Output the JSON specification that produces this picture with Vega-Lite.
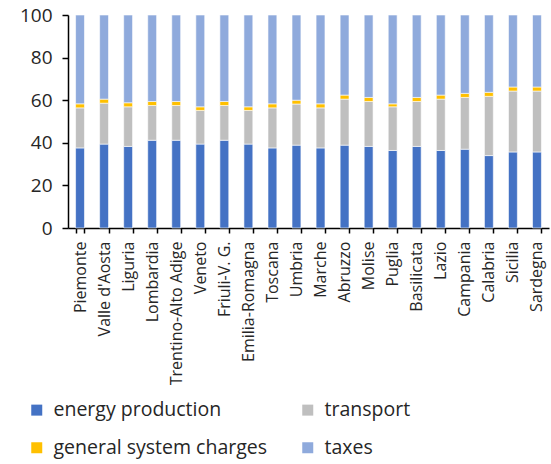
{
  "$schema": "https://vega.github.io/schema/vega-lite/v6.json",
  "autosize": {"type": "none"},
  "padding": {"left": 68, "top": 15, "right": 2, "bottom": 236},
  "width": 481,
  "height": 213,
  "config": {"view": {"stroke": null}, "font": "Open Sans"},
  "datasets": {
    "wide": [
      {"region": "Piemonte", "a": 37.6, "b": 18.8, "c": 1.9, "d": 41.7},
      {"region": "Valle d'Aosta", "a": 39.4, "b": 19.2, "c": 1.9, "d": 39.5},
      {"region": "Liguria", "a": 38.3, "b": 18.6, "c": 1.9, "d": 41.2},
      {"region": "Lombardia", "a": 41.2, "b": 16.3, "c": 1.9, "d": 40.6},
      {"region": "Trentino-Alto Adige", "a": 41.2, "b": 16.3, "c": 1.9, "d": 40.6},
      {"region": "Veneto", "a": 39.4, "b": 15.8, "c": 1.7, "d": 43.1},
      {"region": "Friuli-V. G.", "a": 41.2, "b": 16.3, "c": 1.9, "d": 40.6},
      {"region": "Emilia-Romagna", "a": 39.4, "b": 15.8, "c": 1.7, "d": 43.1},
      {"region": "Toscana", "a": 37.6, "b": 18.8, "c": 1.9, "d": 41.7},
      {"region": "Umbria", "a": 38.9, "b": 19.3, "c": 1.8, "d": 40.0},
      {"region": "Marche", "a": 37.6, "b": 18.8, "c": 1.9, "d": 41.7},
      {"region": "Abruzzo", "a": 38.9, "b": 21.6, "c": 1.9, "d": 37.6},
      {"region": "Molise", "a": 38.3, "b": 21.1, "c": 1.9, "d": 38.7},
      {"region": "Puglia", "a": 36.4, "b": 20.5, "c": 1.4, "d": 41.7},
      {"region": "Basilicata", "a": 38.3, "b": 21.1, "c": 1.9, "d": 38.7},
      {"region": "Lazio", "a": 36.4, "b": 24.1, "c": 1.9, "d": 37.6},
      {"region": "Campania", "a": 37.0, "b": 24.3, "c": 1.9, "d": 36.8},
      {"region": "Calabria", "a": 34.0, "b": 27.8, "c": 1.9, "d": 36.3},
      {"region": "Sicilia", "a": 35.7, "b": 28.6, "c": 1.9, "d": 33.8},
      {"region": "Sardegna", "a": 35.7, "b": 28.6, "c": 1.9, "d": 33.8}
    ]
  },
  "data": {"name": "wide"},
  "transform": [
    {"fold": ["a", "b", "c", "d"], "as": ["k", "value"]}
  ],
  "mark": {"type": "bar", "stroke": "white", "strokeWidth": 0.6},
  "encoding": {
    "x": {
      "field": "region", "type": "nominal", "sort": null,
      "scale": {"paddingInner": 0.63, "paddingOuter": 0.315},
      "axis": {
        "title": null, "labelAngle": -90, "labelFontSize": 16, "labelColor": "#262626",
        "labelPadding": 8, "tickBand": "extent", "tickSize": 5, "tickColor": "black",
        "domainColor": "black", "domainWidth": 1.5, "tickWidth": 1.5
      }
    },
    "y": {
      "field": "value", "type": "quantitative", "stack": "zero",
      "scale": {"domain": [0, 100]},
      "axis": {
        "title": null, "values": [0, 20, 40, 60, 80, 100], "grid": false,
        "labelFontSize": 19, "labelColor": "#262626", "labelPadding": 10,
        "tickSize": 6, "tickColor": "black", "domainColor": "black",
        "domainWidth": 1.5, "tickWidth": 1.5
      }
    },
    "order": {"field": "k", "type": "nominal", "sort": "ascending"},
    "color": {
      "field": "k", "type": "nominal",
      "scale": {
        "domain": ["a", "b", "c", "d"],
        "range": ["#4472C4", "#BFBFBF", "#FFC000", "#8FAADC"]
      },
      "legend": {
        "title": null, "orient": "none", "legendX": -41, "legendY": 385,
        "columns": 2, "direction": "horizontal", "symbolType": "square", "symbolSize": 121,
        "symbolStrokeWidth": 0, "labelFontSize": 19.5, "labelColor": "#262626",
        "columnPadding": 30, "rowPadding": 17, "labelOffset": 7, "labelLimit": 300,
        "labelExpr": "{'a': 'energy production', 'b': 'transport', 'c': 'general system charges', 'd': 'taxes'}[datum.value]"
      }
    }
  }
}
